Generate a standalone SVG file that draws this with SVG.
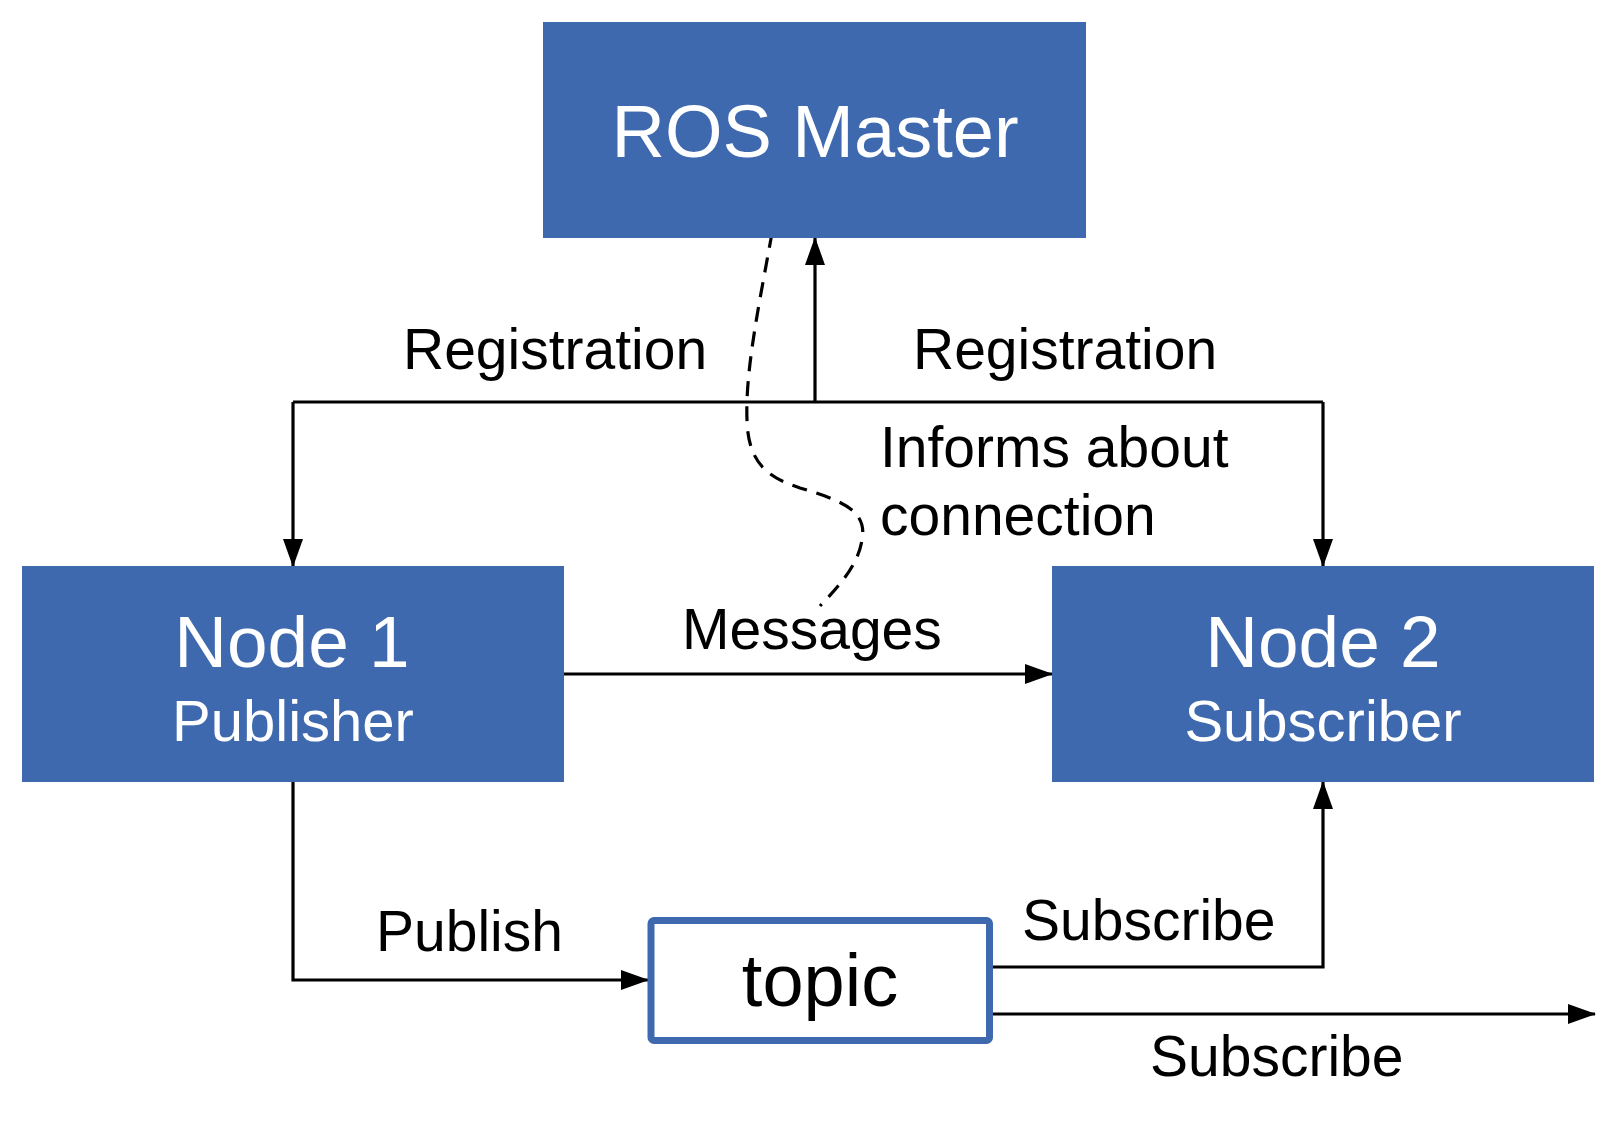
<svg xmlns="http://www.w3.org/2000/svg" width="1613" height="1128" viewBox="0 0 1613 1128">
<style>
.box{fill:#3F69AE}
.wt{fill:#fff;font-family:"Liberation Sans",Arial,sans-serif;text-anchor:middle}
.lbl{fill:#000;font-family:"Liberation Sans",Arial,sans-serif;font-size:57px}
.ln{fill:none;stroke:#000;stroke-width:3.2}
.dash{fill:none;stroke:#000;stroke-width:3.2;stroke-dasharray:15 10}
</style>
<defs>
<marker id="ah" markerUnits="userSpaceOnUse" markerWidth="28" markerHeight="20" refX="27" refY="10" orient="auto">
<path d="M0,0 L28,10 L0,20 Z" fill="#000"/>
</marker>
</defs>
<rect width="1613" height="1128" fill="#fff"/>
<g id="connectors">
<polyline class="ln" points="293,402 1323,402"/>
<line class="ln" x1="293" y1="402" x2="293" y2="566" marker-end="url(#ah)"/>
<line class="ln" x1="1323" y1="402" x2="1323" y2="566" marker-end="url(#ah)"/>
<line class="ln" x1="815" y1="402" x2="815" y2="238" marker-end="url(#ah)"/>
<line class="ln" x1="564" y1="674" x2="1052" y2="674" marker-end="url(#ah)"/>
<polyline class="ln" points="293,782 293,980 648,980" marker-end="url(#ah)"/>
<polyline class="ln" points="993,967 1323,967 1323,782" marker-end="url(#ah)"/>
<line class="ln" x1="993" y1="1014" x2="1595" y2="1014" marker-end="url(#ah)"/>
<path class="dash" d="M772,233 C760,300 745,370 747,420 C748,465 770,478 800,488 C840,500 868,510 862,540 C858,565 840,585 820,606"/>
<text class="lbl" x="403" y="369">Registration</text>
<text class="lbl" x="913" y="369">Registration</text>
<text class="lbl" x="880" y="467">Informs about</text>
<text class="lbl" x="880" y="535">connection</text>
<text class="lbl" x="682" y="649">Messages</text>
<text class="lbl" x="376" y="951">Publish</text>
<text class="lbl" x="1022" y="940">Subscribe</text>
<text class="lbl" x="1150" y="1076">Subscribe</text>
</g>
<g id="ros-master">
<rect class="box" x="543" y="22" width="543" height="216"/>
<text class="wt" x="815" y="157" font-size="74">ROS Master</text>
</g>
<g id="node1">
<rect class="box" x="22" y="566" width="542" height="216"/>
<text class="wt" x="292" y="667" font-size="73">Node 1</text>
<text class="wt" x="293" y="741" font-size="58">Publisher</text>
</g>
<g id="node2">
<rect class="box" x="1052" y="566" width="542" height="216"/>
<text class="wt" x="1323" y="667" font-size="73">Node 2</text>
<text class="wt" x="1323" y="741" font-size="58">Subscriber</text>
</g>
<g id="topic">
<rect x="651" y="920.5" width="338.5" height="120" rx="3" fill="#fff" stroke="#3F69AE" stroke-width="7"/>
<text x="820" y="1006" font-size="74" text-anchor="middle" font-family="Liberation Sans, Arial, sans-serif" fill="#000">topic</text>
</g>
</svg>
